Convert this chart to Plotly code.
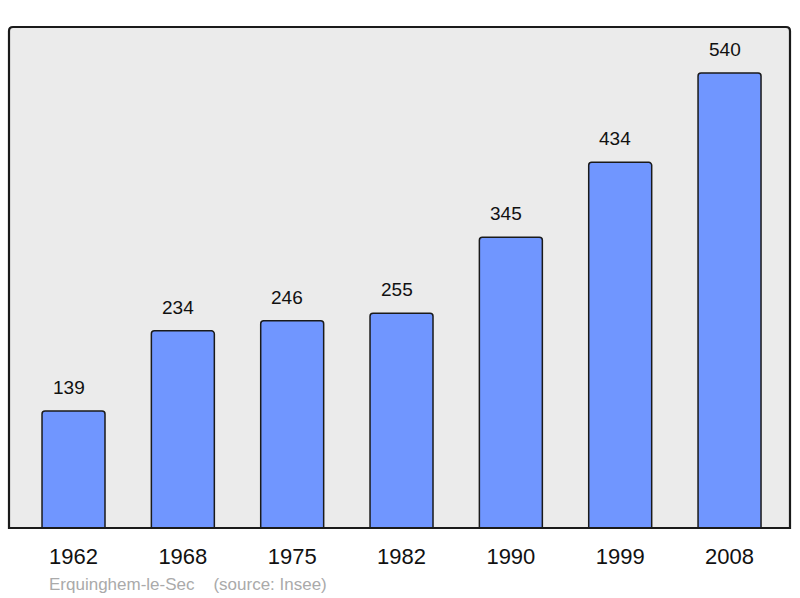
import plotly.graph_objects as go

years = ["1962", "1968", "1975", "1982", "1990", "1999", "2008"]
population = [139, 234, 246, 255, 345, 434, 540]
source_text = "Erquinghem-le-Sec    (source: Insee)"

W, H = 800, 598
L, R, T, B = 9, 10, 27, 70
pw = W - L - R
ph = H - T - B

xs = list(range(len(years)))

fig = go.Figure()
fig.add_trace(go.Bar(
    x=xs, y=population, width=0.576,
    marker=dict(color="#7096ff", line=dict(color="#1a1a1a", width=1.5), cornerradius=3),
    hoverinfo="skip",
))

for i, v in zip(xs, population):
    fig.add_annotation(x=i, y=v, text=str(v), showarrow=False, yanchor="bottom",
                       yshift=11, xshift=-5, font=dict(family="Liberation Sans, Arial", size=19, color="#111"))

fig.add_annotation(xref="paper", yref="paper", x=(47 - L) / pw, y=-(584 - T - ph) / ph,
                   xanchor="left", yanchor="middle", showarrow=False, text=source_text,
                   font=dict(family="Liberation Sans, Arial", size=17, color="#aaaaaa"))

# rounded frame around plot area
r = 4
x0, y0, x1, y1 = L, T, W - R, H - B
def px(x): return (x - L) / pw
def py(y): return 1 - (y - T) / ph
path = (f"M {px(x0+r)} {py(y0)} L {px(x1-r)} {py(y0)} Q {px(x1)} {py(y0)} {px(x1)} {py(y0+r)} "
        f"L {px(x1)} {py(y1)} L {px(x0)} {py(y1)} L {px(x0)} {py(y0+r)} Q {px(x0)} {py(y0)} {px(x0+r)} {py(y0)} Z")
fig.add_shape(type="path", xref="paper", yref="paper", path=path,
              line=dict(color="#1a1a1a", width=2.2), layer="above")

fig.update_layout(
    width=W, height=H, margin=dict(l=L, r=R, t=T, b=B),
    paper_bgcolor="white", plot_bgcolor="#ebebeb",
    showlegend=False,
    xaxis=dict(range=[-0.59, 6.553], tickvals=xs, ticktext=years, showgrid=False,
               zeroline=False, ticks="", ticklabelstandoff=13,
               tickfont=dict(family="Liberation Sans, Arial", size=22, color="#111"), fixedrange=True),
    yaxis=dict(range=[0, 594.6], showticklabels=False, showgrid=False, zeroline=False, fixedrange=True),
)

fig.write_html("out.html", config={"displayModeBar": False},
               post_script="document.body.style.margin='0';document.body.style.overflow='hidden';")
